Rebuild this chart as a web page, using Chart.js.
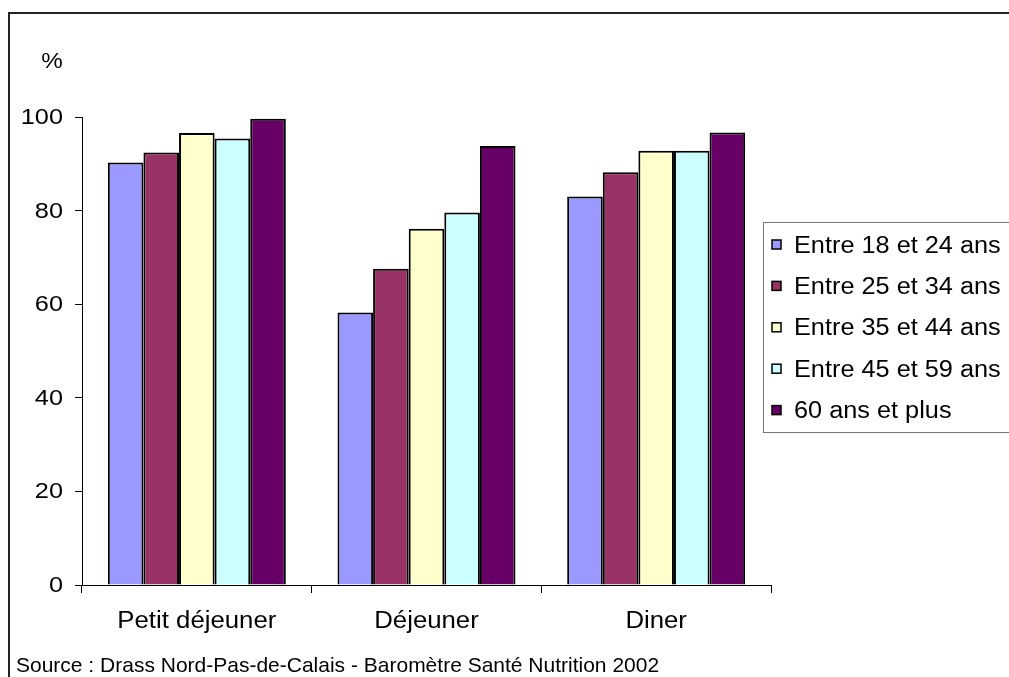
<!DOCTYPE html>
<html>
<head>
<meta charset="utf-8">
<script src="https://cdn.jsdelivr.net/npm/chart.js@4/dist/chart.umd.min.js"></script>
<style>
  html, body { margin: 0; padding: 0; background: #fff; }
  #wrap { width: 1009px; height: 677px; position: relative; }
</style>
</head>
<body>
<div id="wrap"><canvas id="c" width="1009" height="677"></canvas></div>
<script>
// Meals and age groups
const categories = ['Petit déjeuner', 'Déjeuner', 'Diner'];
const seriesNames = ['Entre 18 et 24 ans', 'Entre 25 et 34 ans', 'Entre 35 et 44 ans', 'Entre 45 et 59 ans', '60 ans et plus'];
const age18to24 = [90.3, 58.2, 83.0];
const age25to34 = [92.4, 67.6, 88.2];
const age35to44 = [96.6, 76.1, 92.8];
const age45to59 = [95.4, 79.6, 92.8];
const age60plus = [99.6, 93.8, 96.7];
const yTicks = [0, 20, 40, 60, 80, 100];
const seriesColors = ['#9999FF', '#993366', '#FFFFCC', '#CCFFFF', '#660066'];
const unitLabel = '%';
const sourceText = 'Source : Drass Nord-Pas-de-Calais - Baromètre Santé Nutrition 2002';

const FONT = '"Liberation Sans", Arial, sans-serif';
const allSeries = [age18to24, age25to34, age35to44, age45to59, age60plus];

const datasets = allSeries.map((vals, i) => ({
  label: seriesNames[i],
  data: vals,
  backgroundColor: seriesColors[i],
  borderColor: '#000',
  borderWidth: 2,
  borderSkipped: 'bottom',
  categoryPercentage: 0.775,
  barPercentage: 1.0
}));

// Text drawn with a slight horizontal widening, as in the original layout
function wideText(ctx, text, x, y, size, sx, align) {
  ctx.save();
  ctx.font = size + 'px ' + FONT;
  ctx.textBaseline = 'alphabetic';
  ctx.textAlign = 'left';
  const w = ctx.measureText(text).width * sx;
  let left = x;
  if (align === 'right') left = x - w;
  else if (align === 'center') left = x - w / 2;
  ctx.translate(left, y);
  ctx.scale(sx, 1);
  ctx.fillStyle = '#000';
  ctx.fillText(text, 0, 0);
  ctx.restore();
}

// Frame, axis labels, unit label, legend box and source line
const decorations = {
  id: 'decorations',
  afterDraw(chart) {
    const ctx = chart.ctx;
    const xs = chart.scales.x, ys = chart.scales.y;
    ctx.save();
    // outer frame (top and left edges)
    ctx.strokeStyle = '#222';
    ctx.lineWidth = 2;
    ctx.beginPath();
    ctx.moveTo(9, 677);
    ctx.lineTo(9, 13);
    ctx.lineTo(1009, 13);
    ctx.stroke();

    // value axis labels
    ys.ticks.forEach(t => {
      wideText(ctx, String(t.value), 63, ys.getPixelForValue(t.value) + 7, 22, 1.15, 'right');
    });
    // category labels
    xs.ticks.forEach((t, i) => {
      wideText(ctx, chart.data.labels[i], xs.getPixelForTick(i), 628, 23, 1.12, 'center');
    });

    // unit label
    wideText(ctx, unitLabel, 52, 68, 22, 1.1, 'center');

    // legend
    const lx = 763, ly = 222.5, lh = 210;
    ctx.fillStyle = '#fff';
    ctx.fillRect(lx, ly, 1009 - lx, lh);
    ctx.strokeStyle = '#777';
    ctx.lineWidth = 1;
    ctx.strokeRect(lx + 0.5, ly, 1009 - lx + 5, lh);
    chart.data.datasets.forEach((ds, i) => {
      const cy = 244.5 + i * 41.4;
      ctx.fillStyle = ds.backgroundColor;
      ctx.fillRect(772, cy - 4.5, 9, 9);
      ctx.strokeStyle = '#000';
      ctx.lineWidth = 1.5;
      ctx.strokeRect(772, cy - 4.5, 9, 9);
      wideText(ctx, ds.label, 794, cy + 8, 23, 1.1, 'left');
    });

    // source line
    wideText(ctx, sourceText, 16, 672, 21, 1.0, 'left');
    ctx.restore();
  }
};

new Chart(document.getElementById('c'), {
  type: 'bar',
  data: { labels: categories, datasets },
  options: {
    responsive: false,
    animation: false,
    layout: { padding: { top: 117, right: 238, left: 0, bottom: 0 } },
    plugins: { legend: { display: false }, tooltip: { enabled: false } },
    scales: {
      x: {
        offset: true,
        grid: { offset: true, drawOnChartArea: false, tickLength: 8, color: '#000', lineWidth: 1 },
        border: { color: '#000', width: 1 },
        ticks: { display: false },
        afterFit(scale) { scale.height = 92; }
      },
      y: {
        min: 0, max: 100,
        afterBuildTicks(scale) { scale.ticks = yTicks.map(v => ({ value: v })); },
        grid: { drawOnChartArea: false, tickLength: 7, color: '#000', lineWidth: 1 },
        border: { color: '#000', width: 1 },
        ticks: { display: false },
        afterFit(scale) { scale.width = 82; }
      }
    }
  },
  plugins: [decorations]
});
</script>
</body>
</html>
